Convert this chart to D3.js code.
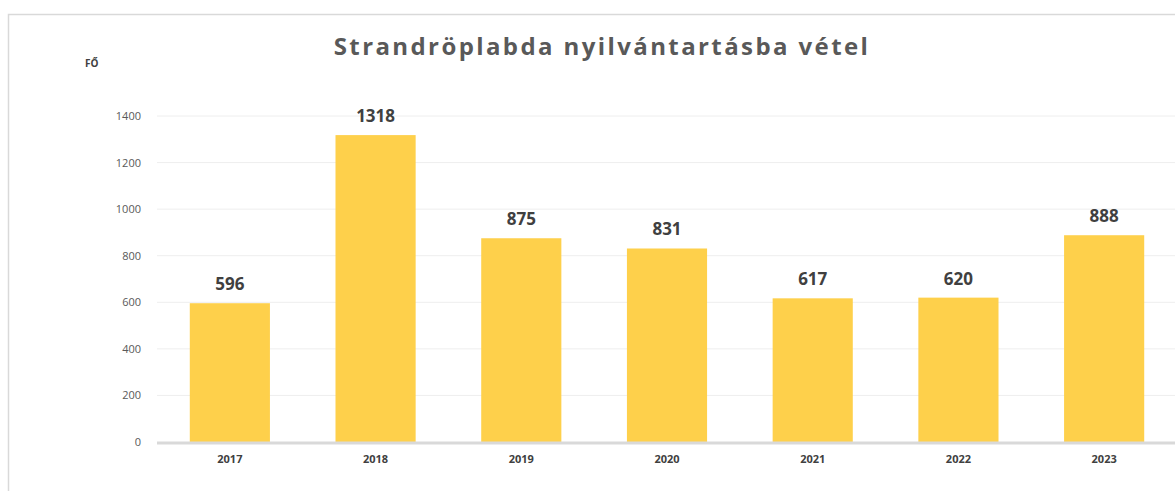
<!DOCTYPE html>
<html>
<head>
<meta charset="utf-8">
<script src="https://cdn.jsdelivr.net/npm/d3@7"></script>
<style>
  body { margin: 0; background: white; }
</style>
</head>
<body>
<div id="container"></div>
<script>
let years = ["2017", "2018", "2019", "2020", "2021", "2022", "2023"];
let values = [596, 1318, 875, 831, 617, 620, 888];
let yTicks = [0, 200, 400, 600, 800, 1000, 1200, 1400];

let w = 1175;
let h = 491;

let viz = d3.select("#container")
  .append("svg")
    .attr("width", w)
    .attr("height", h)
    .style("background-color", "white")
    .style("display", "block")
;

// chart frame
viz.append("rect")
    .attr("x", 8.5)
    .attr("y", 14.5)
    .attr("width", w + 20)
    .attr("height", h + 20)
    .attr("fill", "none")
    .attr("stroke", "#d9d9d9")
    .attr("stroke-width", 1.5)
;

let xScale = d3.scaleBand().domain(years).range([157, 1177]).paddingInner(0.45).paddingOuter(0.225);
let yScale = d3.scaleLinear().domain([0, 1400]).range([442, 116]);

// gridlines
viz.append("g")
  .selectAll("line").data(yTicks.slice(1)).enter()
  .append("line")
    .attr("x1", 157)
    .attr("x2", w)
    .attr("y1", d => yScale(d))
    .attr("y2", d => yScale(d))
    .attr("stroke", "#eeeeee")
    .attr("stroke-width", 1)
;

// y axis labels
let yAxis = d3.axisLeft(yScale).tickValues(yTicks).tickFormat(d3.format("d")).tickSize(0).tickPadding(0);
let yg = viz.append("g").attr("transform", "translate(141,0)").call(yAxis);
yg.select(".domain").remove();
yg.selectAll("text")
    .attr("fill", "#595959")
    .style("font-family", "'Open Sans', sans-serif")
    .style("font-size", "11px")
;

// bars
viz.append("g")
  .selectAll("rect").data(values).enter()
  .append("rect")
    .attr("x", (d, i) => xScale(years[i]))
    .attr("y", d => yScale(d))
    .attr("width", xScale.bandwidth())
    .attr("height", d => yScale(0) - yScale(d))
    .attr("fill", "#fed04b")
;

// baseline
viz.append("line")
    .attr("x1", 157)
    .attr("x2", w)
    .attr("y1", yScale(0) + 1)
    .attr("y2", yScale(0) + 1)
    .attr("stroke", "#d9d9d9")
    .attr("stroke-width", 3)
;

// value labels
viz.append("g")
  .selectAll("text").data(values).enter()
  .append("text")
    .text(d => d)
    .attr("x", (d, i) => xScale(years[i]) + xScale.bandwidth() / 2)
    .attr("y", d => yScale(d) - 13)
    .attr("text-anchor", "middle")
    .attr("fill", "#404040")
    .style("font-family", "'Open Sans', sans-serif")
    .style("font-weight", "bold")
    .style("font-size", "17px")
;

// x axis labels
let xAxis = d3.axisBottom(xScale).tickSize(0).tickPadding(0);
let xg = viz.append("g").attr("transform", "translate(0,455)").call(xAxis);
xg.select(".domain").remove();
xg.selectAll("text")
    .attr("fill", "#404040")
    .attr("dy", "0.71em")
    .style("font-family", "'Open Sans', sans-serif")
    .style("font-weight", "bold")
    .style("font-size", "11px")
;

// title
viz.append("text")
    .text("Strandröplabda nyilvántartásba vétel")
    .attr("x", 602)
    .attr("y", 55)
    .attr("text-anchor", "middle")
    .attr("fill", "#595959")
    .style("font-family", "'Open Sans', sans-serif")
    .style("font-weight", "bold")
    .style("font-size", "24px")
    .style("letter-spacing", "2.4px")
;

// unit label
viz.append("text")
    .text("FŐ")
    .attr("x", 85)
    .attr("y", 67)
    .attr("fill", "#404040")
    .style("font-family", "'Open Sans', sans-serif")
    .style("font-weight", "bold")
    .style("font-size", "10px")
;
</script>
</body>
</html>
